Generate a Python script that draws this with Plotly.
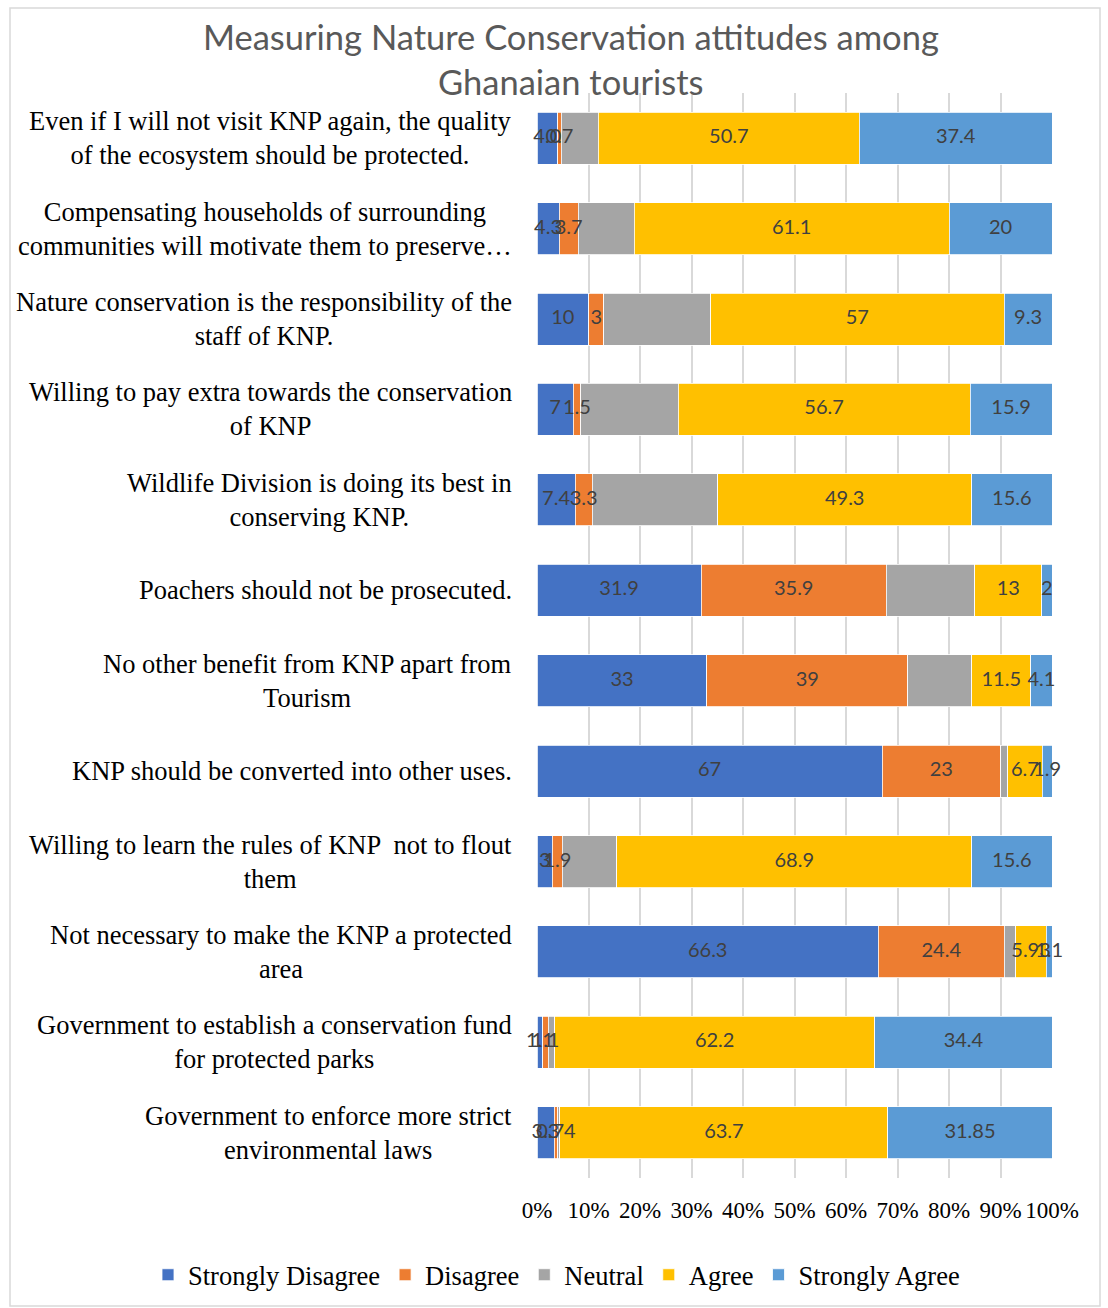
import plotly.graph_objects as go

# Survey statements, listed top to bottom
statements = [
    "Even if I will not visit KNP again, the quality<br>of the ecosystem should be protected.",
    "Compensating households of surrounding<br>communities will motivate them to preserve…",
    "Nature conservation is the responsibility of the<br>staff of KNP.",
    "Willing to pay extra towards the conservation<br>of KNP",
    "Wildlife Division is doing its best in<br>conserving KNP.",
    "Poachers should not be prosecuted.",
    "No other benefit from KNP apart from<br>Tourism",
    "KNP should be converted into other uses.",
    "Willing to learn the rules of KNP  not to flout<br>them",
    "Not necessary to make the KNP a protected<br>area",
    "Government to establish a conservation fund<br>for protected parks",
    "Government to enforce more strict<br>environmental laws",
]

# Response shares (%) per statement
strongly_disagree = [4.0, 4.3, 10, 7, 7.4, 31.9, 33, 67, 3, 66.3, 1.1, 3.3]
disagree = [0.7, 3.7, 3, 1.5, 3.3, 35.9, 39, 23, 1.9, 24.4, 1.1, 0.74]
neutral = [7.2, 10.9, 20.7, 18.9, 24.4, 17.2, 12.4, 1.4, 10.6, 2.27, 1.2, 0.41]
agree = [50.7, 61.1, 57, 56.7, 49.3, 13, 11.5, 6.7, 68.9, 5.93, 62.2, 63.7]
strongly_agree = [37.4, 20, 9.3, 15.9, 15.6, 2, 4.1, 1.9, 15.6, 1.1, 34.4, 31.85]

tick_values = list(range(0, 101, 10))
tick_labels = [f"{v}%" for v in tick_values]

series = [
    ("Strongly Disagree", strongly_disagree, "#4472C4", True),
    ("Disagree", disagree, "#ED7D31", True),
    ("Neutral", neutral, "#A5A5A5", False),
    ("Agree", agree, "#FFC000", True),
    ("Strongly Agree", strongly_agree, "#5B9BD5", True),
]

SERIF = "Liberation Serif, Times New Roman, serif"
SANS = "Lato, Open Sans, sans-serif"

W, H = 1108, 1308
L, R, T, B = 537, 56, 93, 130
plot_w = W - L - R
plot_h = H - T - B


def px_x(px):
    return (px - L) / plot_w


def px_y(py):
    return (H - B - py) / plot_h


fig = go.Figure()

# 100% stacked bars
for name, vals, color, _ in series:
    fig.add_trace(go.Bar(
        name=name,
        y=statements,
        x=vals,
        orientation="h",
        marker=dict(color=color, line=dict(color="white", width=0.8)),
        hoverinfo="name+x",
    ))

# Data labels centred on each segment (shares normalised per row)
totals = [sum(row) for row in zip(*(s[1] for s in series))]
running = [0.0] * len(statements)
for name, vals, color, labelled in series:
    mids = []
    for i, v in enumerate(vals):
        mids.append((running[i] + v / 2) / totals[i] * 100)
        running[i] += v
    if labelled:
        fig.add_trace(go.Scatter(
            x=mids, y=statements, mode="text",
            text=[str(v) for v in vals],
            textposition="middle center",
            textfont=dict(family=SANS, size=20, color="#404040"),
            showlegend=False, hoverinfo="skip", cliponaxis=False,
        ))

annotations = []
for s in statements:
    annotations.append(dict(
        x=0, xref="paper", y=s, yref="y",
        text=s, showarrow=False, xanchor="right", yanchor="middle",
        align="center", xshift=-23,
        font=dict(family=SERIF, size=26.5, color="black"),
    ))

# Chart title, two lines
for line, py in (("Measuring Nature Conservation attitudes among", 36),
                 ("Ghanaian tourists", 81)):
    annotations.append(dict(
        x=px_x(570.5), xref="paper", y=px_y(py), yref="paper",
        text=line, showarrow=False, xanchor="center", yanchor="middle",
        font=dict(family=SANS, size=34.5, color="#595959"),
    ))

fig.update_layout(
    width=W, height=H,
    margin=dict(l=L, r=R, t=T, b=B, autoexpand=False),
    paper_bgcolor="white", plot_bgcolor="white",
    barmode="stack", barnorm="percent", bargap=0.425,
    showlegend=True,
    legend=dict(
        orientation="h",
        x=px_x(148), xanchor="left",
        y=px_y(1275), yanchor="middle",
        font=dict(family=SERIF, size=26.5, color="black"),
        bgcolor="rgba(0,0,0,0)",
        traceorder="normal", itemwidth=30,
    ),
    xaxis=dict(
        range=[0, 100], tickmode="array", tickvals=tick_values,
        ticktext=tick_labels,
        showgrid=True, gridcolor="#D9D9D9", gridwidth=2,
        zeroline=False, showline=False, ticks="",
        ticklabelstandoff=16,
        tickfont=dict(family=SERIF, size=23, color="black"),
        fixedrange=True,
    ),
    yaxis=dict(
        range=[len(statements) - 0.5, -0.5],
        showticklabels=False, showgrid=False,
        zeroline=False, showline=False, ticks="",
    ),
    annotations=annotations,
    shapes=[dict(
        type="rect", xref="paper", yref="paper",
        x0=px_x(10), x1=px_x(1100), y0=px_y(1306), y1=px_y(8),
        line=dict(color="#D9D9D9", width=1.5), layer="below",
    )],
)

fig.write_html("out.html")
